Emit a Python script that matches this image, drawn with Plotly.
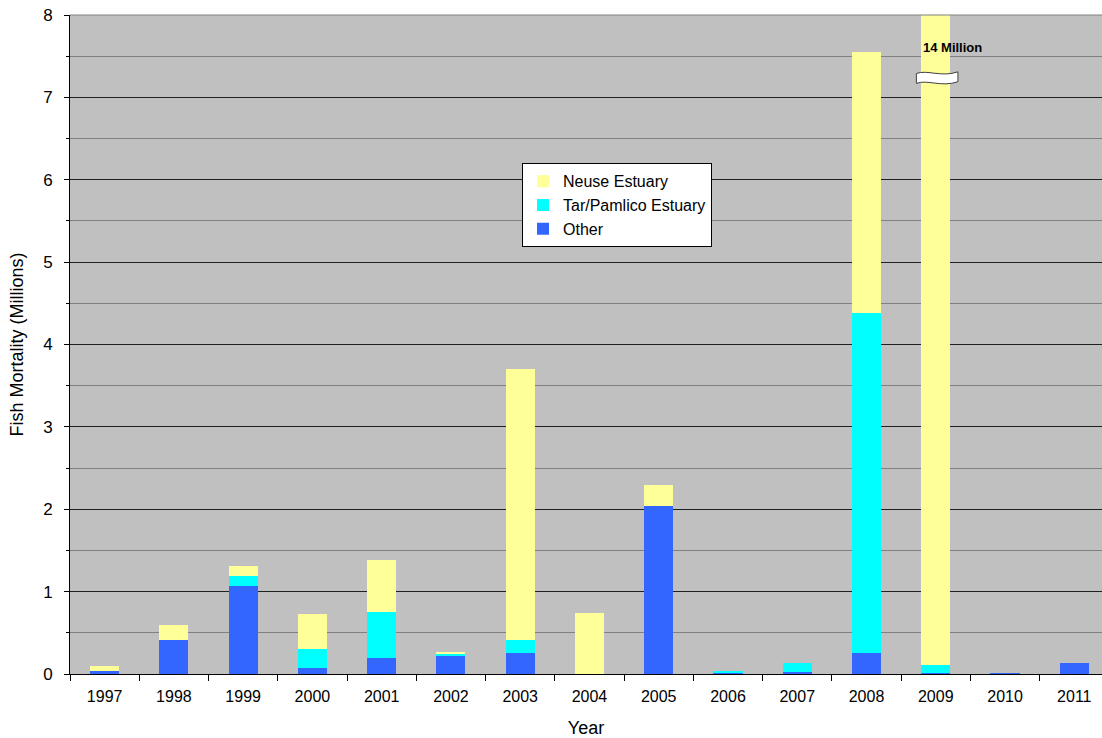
import plotly.graph_objects as go

years = ["1997", "1998", "1999", "2000", "2001", "2002", "2003", "2004",
         "2005", "2006", "2007", "2008", "2009", "2010", "2011"]
other = [0.037, 0.41, 1.07, 0.078, 0.19, 0.23, 0.25, 0.0,
         2.04, 0.012, 0.024, 0.25, 0.012, 0.012, 0.135]
tar_pamlico = [0.0, 0.0, 0.12, 0.22, 0.56, 0.01, 0.16, 0.0,
               0.0, 0.025, 0.11, 4.13, 0.094, 0.0, 0.0]
neuse = [0.063, 0.19, 0.12, 0.43, 0.64, 0.03, 3.29, 0.735,
         0.25, 0.0, 0.0, 3.17, 13.894, 0.0, 0.0]

break_label = "14 Million"
break_year = "2009"

fig = go.Figure()
fig.add_trace(go.Bar(x=years, y=other, name="Other", marker=dict(color="#3366FF", line=dict(width=0))))
fig.add_trace(go.Bar(x=years, y=tar_pamlico, name="Tar/Pamlico Estuary", marker=dict(color="#00FFFF", line=dict(width=0))))
fig.add_trace(go.Bar(x=years, y=neuse, name="Neuse Estuary", marker=dict(color="#FFFF99", line=dict(width=0))))

bi = years.index(break_year)

# break symbol on the 2009 bar
xl, xr = bi - 0.28, bi + 0.32
yc = 7.23
h = 0.06
path = (f"M {xl},{yc+h} "
        f"C {bi-0.12},{yc+h+0.05} {bi+0.08},{yc+h-0.05} {xr},{yc+h+0.02} "
        f"L {xr},{yc-h+0.02} "
        f"C {bi+0.08},{yc-h-0.05} {bi-0.12},{yc-h+0.05} {xl},{yc-h} Z")
fig.add_shape(type="path", path=path, xref="x", yref="y",
              fillcolor="white", line=dict(color="#404040", width=1))

fig.add_annotation(x=bi - 0.22, y=7.6, xref="x", yref="y", text=f"<b>{break_label}</b>",
                   showarrow=False, xanchor="left", yanchor="middle",
                   font=dict(family="Liberation Sans, Arial", size=13, color="black"))

# gray top border
fig.add_shape(type="line", xref="paper", yref="paper", x0=0, x1=1, y0=1, y1=1,
              line=dict(color="#808080", width=1))

fig.update_layout(
    barmode="stack",
    bargap=0.58,
    width=1102, height=738,
    margin=dict(l=70, r=0, t=15, b=64),
    paper_bgcolor="white",
    plot_bgcolor="#C0C0C0",
    font=dict(family="Liberation Sans, Arial", size=15, color="black"),
    showlegend=True,
    legend=dict(x=0.438, y=0.775, xanchor="left", yanchor="top",
                traceorder="reversed", bgcolor="white",
                bordercolor="black", borderwidth=1,
                font=dict(size=16), itemwidth=30, tracegroupgap=0),
)
fig.update_xaxes(
    title=dict(text="Year", font=dict(size=18), standoff=18),
    type="category", automargin=False,
    range=[-0.5, 14.4],
    showline=True, linecolor="black", linewidth=1,
    ticks="outside", tickson="boundaries", ticklen=6, tickcolor="black",
    ticklabelstandoff=8, tickfont=dict(size=16),
    showgrid=False,
)
fig.update_yaxes(
    title=dict(text="Fish Mortality (Millions)", font=dict(size=18), standoff=14),
    range=[0, 8], dtick=1, tick0=0, automargin=False,
    showline=True, linecolor="black", linewidth=1,
    ticks="outside", ticklen=5, tickcolor="black",
    ticklabelstandoff=8, tickfont=dict(size=17), ticklabeloverflow="allow",
    showgrid=True, gridcolor="#202020", gridwidth=1,
    minor=dict(dtick=0.5, showgrid=True, gridcolor="#808080", gridwidth=1,
               ticks="outside", ticklen=3, tickcolor="black"),
    zeroline=False,
)

fig.write_html("out.html", config={"displayModeBar": False},
               post_script="document.body.style.margin='0';document.body.style.overflow='hidden';")
